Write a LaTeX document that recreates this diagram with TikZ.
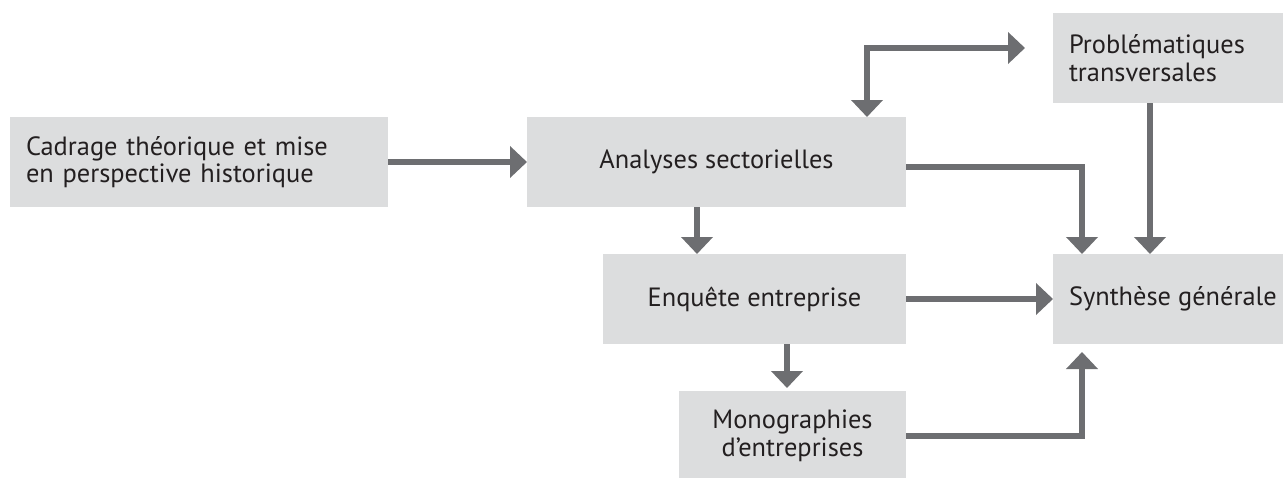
\documentclass[tikz,border=0pt]{standalone}
\usepackage{fontspec}
\setmainfont{PT Sans}
\usepackage{tikz}
\usetikzlibrary{arrows.meta,positioning,calc}

\definecolor{boxgray}{HTML}{DCDDDE}
\definecolor{arrowgray}{HTML}{6D6E71}
\definecolor{txtdark}{HTML}{231F20}

\begin{document}
\begin{tikzpicture}[
    font=\fontsize{13.2pt}{13.8pt}\selectfont,
    box/.style={fill=boxgray, text=txtdark, minimum height=45pt, inner xsep=8pt, inner ysep=0pt, outer sep=0pt, align=center},
    lbox/.style={box, align=left},
    flow/.style={-{Triangle[length=8.5pt, width=15.5pt]}, line width=2.6pt, draw=arrowgray},
    biflow/.style={flow, {Triangle[length=8.5pt, width=15.5pt]}-{Triangle[length=8.5pt, width=15.5pt]}}
]
\useasboundingbox (0,0) rectangle (641.5pt,-238.5pt);

\node[lbox, text width=173pt, anchor=north west] (cadrage) at (5pt,-58.5pt) {Cadrage théorique et mise\\en perspective historique};
\node[box, minimum width=189.5pt, right=69.5pt of cadrage] (analyses) {Analyses sectorielles};
\node[box, minimum width=151.5pt, below left=23.5pt and 0pt of analyses.south east] (enquete) {Enquête entreprise};
\node[box, minimum width=113.5pt, below left=23.5pt and 0pt of enquete.south east] (mono) {Monographies\\d’entreprises};
\node[box, minimum width=115pt, right=73.5pt of enquete] (synthese) {Synthèse générale};
\node[lbox, text width=99pt, above right=75.5pt and 0pt of synthese.north west] (problem) {Problématiques\\transversales};

\draw[flow] (cadrage) -- (analyses);
\draw[biflow] ($(analyses.north east)+(-19.5pt,0)$) |- ($(problem.north west)+(-14pt,-17.5pt)$);
\draw[flow] ($(analyses.south west)+(85pt,0)$) coordinate (a1) -- (a1 |- enquete.north);
\draw[flow] ($(analyses.east)+(0,-2.5pt)$) -| ($(synthese.north west)+(14.5pt,0)$);
\draw[flow] ($(problem.south west)+(48.5pt,0)$) coordinate (p1) -- (p1 |- synthese.north);
\draw[flow] (enquete) -- (synthese);
\draw[flow] ($(enquete.south west)+(92pt,0)$) coordinate (e1) -- ([yshift=1.5pt]e1 |- mono.north);
\draw[flow, shorten >=4pt] (mono.east) -| ($(synthese.south west)+(14.5pt,0)$);
\end{tikzpicture}
\end{document}
